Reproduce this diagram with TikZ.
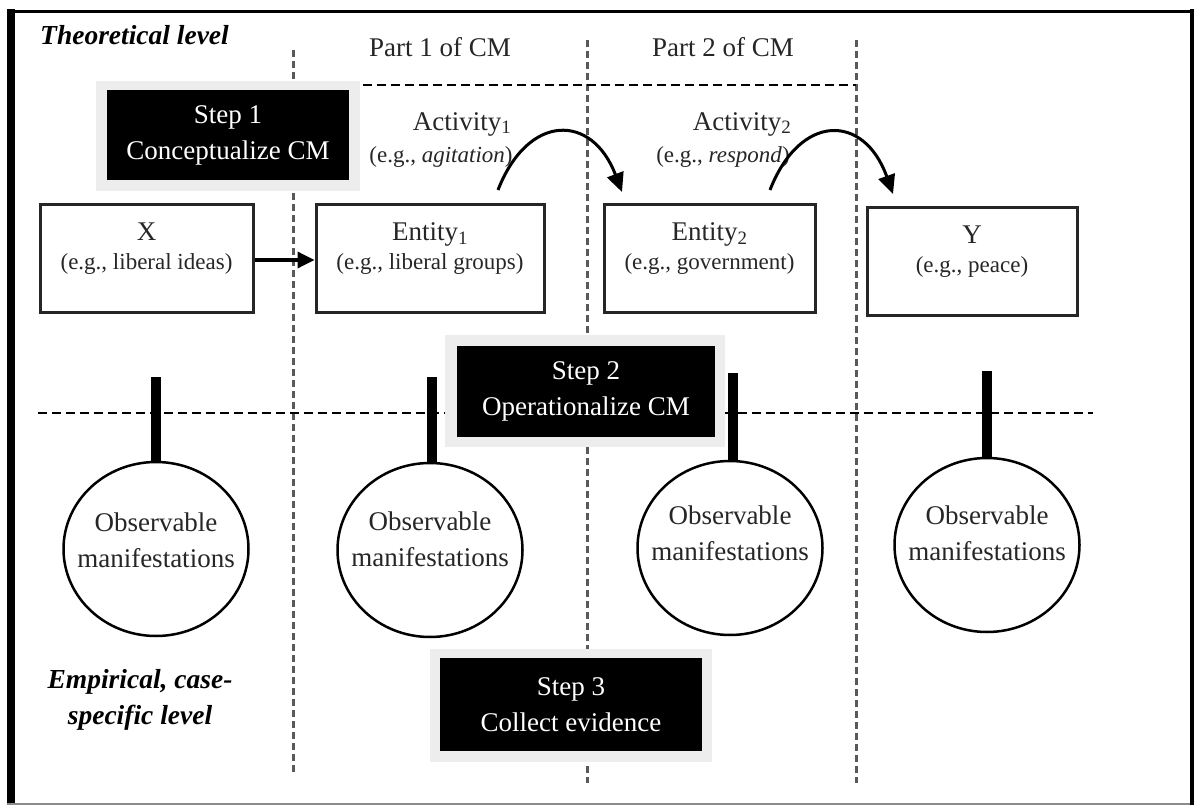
\documentclass[tikz,border=0pt]{standalone}
\usepackage{fontspec}
\setmainfont{Liberation Serif}
\usetikzlibrary{arrows.meta,shapes.geometric}
\tikzset{
  vdash/.style={draw=black!65, line width=3pt, dash pattern=on 7pt off 4pt},
  hdash/.style={draw=black, line width=2.5pt, dash pattern=on 9pt off 5pt},
  ebox/.style={draw=black!85, line width=3pt, minimum height=107pt, inner sep=0pt, align=center, text=black!85, font=\fontsize{23}{29}\selectfont},
  halo/.style={fill=black!7, draw=none, inner sep=0pt},
  stepbox/.style={fill=black, text=white, inner sep=0pt, align=center, font=\fontsize{27}{36}\selectfont},
  obs/.style={draw=black, ellipse, line width=2.5pt, minimum width=185pt, minimum height=174pt, inner sep=0pt},
  obstext/.style={align=center, text=black!85, font=\fontsize{27}{36}\selectfont, inner sep=0pt},
  stem/.style={line width=10pt},
  arcarrow/.style={line width=3pt, -{Triangle[length=19pt,width=17pt]}},
  lbl/.style={inner sep=0pt, text=black!85, font=\fontsize{27}{36}\selectfont, align=center},
  eglbl/.style={inner sep=0pt, text=black!85, font=\fontsize{23}{29}\selectfont},
  level/.style={inner sep=0pt, align=center, font=\fontsize{27.5}{36}\selectfont\bfseries\itshape}
}
\begin{document}
\begin{tikzpicture}[x=1pt,y=-1pt]
\useasboundingbox (0,0) rectangle (1194,805);
% frame
\draw[line width=8pt] (11,9.5) -- (11,805);
\draw[line width=3.5pt] (7,11.5) -- (1194,11.5);
\draw[line width=4pt] (1192,9.5) -- (1192,805);
\draw[line width=2pt, black!45] (7,804) -- (1190,804);

% dashed grid
\coordinate (v1t) at (293,50);  \coordinate (v1b) at (293,772);
\coordinate (v2t) at (587,40);  \coordinate (v2b) at (587,783);
\coordinate (v3t) at (856,40);  \coordinate (v3b) at (856,783);
\coordinate (htl) at (363,85);  \coordinate (htr) at (856,85);
\coordinate (hml) at (38,413);  \coordinate (hmr) at (1093,413);
\draw[vdash] (v1t) -- (v1b);
\draw[vdash] (v2t) -- (v2b);
\draw[vdash] (v3t) -- (v3b);
\draw[hdash] (htl) -- (htr);
\draw[hdash] (hml) -- (hmr);

% level labels
\node[level, anchor=west] (theo) at (40,35) {Theoretical level};
\node[level] (emp) at (140,700) {Empirical, case-\\specific level};

% part labels
\node[lbl] (p1) at (440,47) {Part 1 of CM};
\node[lbl] (p2) at (723,47) {Part 2 of CM};

% step boxes
\node[halo, minimum width=264pt, minimum height=110pt] (h1) at (228,136) {};
\node[stepbox, minimum width=242pt, minimum height=90pt] (step1) at (228,135) {Step 1\\Conceptualize CM};
\node[halo, minimum width=280pt, minimum height=112pt] (h2) at (585,391) {};
\node[stepbox, minimum width=258pt, minimum height=91pt] (step2) at (586,391.5) {Step 2\\Operationalize CM};
\node[halo, minimum width=282pt, minimum height=113pt] (h3) at (571,705.5) {};
\node[stepbox, minimum width=262pt, minimum height=93pt] (step3) at (571,704.5) {Step 3\\Collect evidence};

% activities
\node[lbl] (act1) at (462,124) {Activity\textsubscript{1}};
\node[eglbl] (eg1) at (441,157) {(e.g., \textit{agitation})};
\node[lbl] (act2) at (742,124) {Activity\textsubscript{2}};
\node[eglbl] (eg2) at (723,157) {(e.g., \textit{respond})};

% entity boxes
\node[ebox, minimum width=213pt] (X) at (146.5,258.5) {{\fontsize{27}{29}\selectfont X}\\(e.g., liberal ideas)\rule[-24pt]{0pt}{0pt}};
\node[ebox, minimum width=228pt] (E1) at (430,258.5) {{\fontsize{27}{29}\selectfont Entity\textsubscript{1}}\\(e.g., liberal groups)\rule[-24pt]{0pt}{0pt}};
\node[ebox, minimum width=211pt] (E2) at (709.5,258.5) {{\fontsize{27}{29}\selectfont Entity\textsubscript{2}}\\(e.g., government)\rule[-24pt]{0pt}{0pt}};
\node[ebox, minimum width=210pt] (Y) at (972,261.5) {{\fontsize{27}{29}\selectfont Y}\\(e.g., peace)\rule[-24pt]{0pt}{0pt}};

\draw[line width=3.5pt, -{Triangle[length=17pt,width=16pt]}] (X.east |- 0,260) -- (E1.west |- 0,260);

% activity arcs
\coordinate (a1s) at (498,190); \coordinate (a1e) at (622,192);
\coordinate (a2s) at (770,190); \coordinate (a2e) at (893,194);
\draw[arcarrow] (a1s) .. controls (528,113) and (592,113) .. (a1e);
\draw[arcarrow] (a2s) .. controls (800,113) and (864,113) .. (a2e);

% observable manifestations
\node[obs] (c1) at (156,549) {};
\node[obs] (c2) at (430,550) {};
\node[obs] (c3) at (730,548) {};
\node[obs] (c4) at (987,545) {};
\node[obstext] (t1) at (156,540) {Observable\\manifestations};
\node[obstext] (t2) at (430,539) {Observable\\manifestations};
\node[obstext] (t3) at (730,533) {Observable\\manifestations};
\node[obstext] (t4) at (987,533) {Observable\\manifestations};

\coordinate (s1) at (156,377);
\coordinate (s2) at (432,377);
\coordinate (s3) at (733,373);
\coordinate (s4) at (987,371);
\draw[stem] (s1) -- (c1.north);
\draw[stem] (s2) -- (s2 |- c2.north);
\draw[stem] (s3) -- (s3 |- c3.north);
\draw[stem] (s4) -- (c4.north);
\end{tikzpicture}
\end{document}
